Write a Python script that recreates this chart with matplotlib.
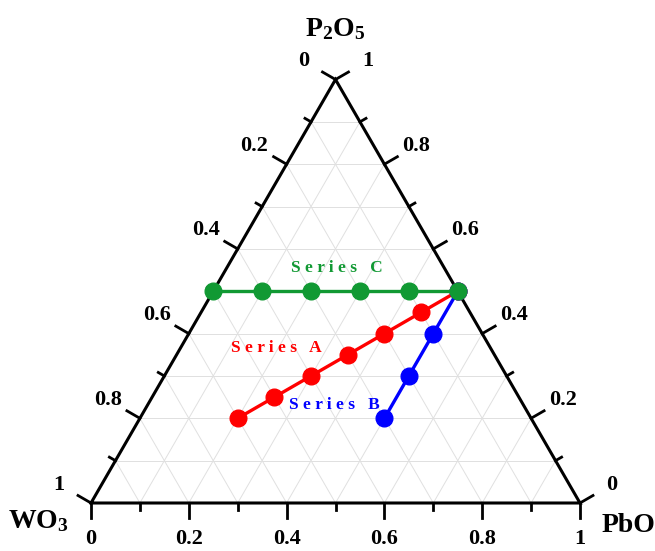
import numpy as np
import matplotlib
matplotlib.use("Agg")
import matplotlib.pyplot as plt

plt.rcParams['font.family'] = ['Liberation Serif', 'DejaVu Serif']
plt.rcParams['font.weight'] = 'bold'
plt.rcParams['mathtext.fontset'] = 'custom'
plt.rcParams['mathtext.rm'] = 'Liberation Serif:bold'
plt.rcParams['mathtext.it'] = 'Liberation Serif:bold'
plt.rcParams['mathtext.bf'] = 'Liberation Serif:bold'

# compositions (mole fractions): PbO, P2O5 (WO3 = 1 - PbO - P2O5)
pbo_a = [0.20, 0.25, 0.30, 0.35, 0.40, 0.45, 0.50]
p2o5_a = [0.20, 0.25, 0.30, 0.35, 0.40, 0.45, 0.50]
pbo_b = [0.50, 0.50, 0.50, 0.50]
p2o5_b = [0.20, 0.30, 0.40, 0.50]
pbo_c = [0.0, 0.1, 0.2, 0.3, 0.4, 0.5]
p2o5_c = [0.5, 0.5, 0.5, 0.5, 0.5, 0.5]

tick_vals = [0.0, 0.2, 0.4, 0.6, 0.8, 1.0]
tick_text = ['0', '0.2', '0.4', '0.6', '0.8', '1']

S = np.sqrt(3) / 2


def cart(pbo, p2o5):
    pbo = np.asarray(pbo, float)
    p2o5 = np.asarray(p2o5, float)
    return pbo + p2o5 / 2, p2o5 * S


fig = plt.figure(figsize=(6.55, 5.51), dpi=100)
ax = fig.add_axes([0, 0, 1, 1])
ax.set_xlim(-91 / 489, (655 - 91) / 489)
ax.set_ylim(-(551 - 503) / 489, 503 / 489)
ax.axis('off')

# grid
gc = '#e0e0e0'
for t in np.arange(0.1, 0.95, 0.1):
    x, y = cart([t, t], [0, 1 - t])
    ax.plot(x, y, color=gc, lw=0.7, zorder=1)
    x, y = cart([0, 1 - t], [t, t])
    ax.plot(x, y, color=gc, lw=0.7, zorder=1)
    x, y = cart([1 - t, 0], [0, 1 - t])
    ax.plot(x, y, color=gc, lw=0.7, zorder=1)

# frame
x, y = cart([0, 1, 0, 0], [0, 0, 1, 0])
ax.plot(x, y, color='black', lw=2.2, zorder=3, solid_joinstyle='miter')

# ticks on the three edges
d_bot = np.array([0, -1])
d_right = np.array([np.cos(np.pi / 6), np.sin(np.pi / 6)])
d_left = np.array([-np.cos(np.pi / 6), np.sin(np.pi / 6)])
major, minor = 15 / 489, 7 / 489
for i in range(11):
    t = i / 10
    ln = major if i % 2 == 0 else minor
    # PbO on the bottom edge
    p = np.array(cart(t, 0))
    ax.plot([p[0], p[0] + d_bot[0] * ln], [p[1], p[1] + d_bot[1] * ln], color='black', lw=2.0, zorder=3)
    # P2O5 on the right edge
    p = np.array(cart(1 - t, t))
    ax.plot([p[0], p[0] + d_right[0] * ln], [p[1], p[1] + d_right[1] * ln], color='black', lw=2.0, zorder=3)
    # WO3 on the left edge
    p = np.array(cart(0, 1 - t))
    ax.plot([p[0], p[0] + d_left[0] * ln], [p[1], p[1] + d_left[1] * ln], color='black', lw=2.0, zorder=3)

off = 37 / 489
for t, s in zip(tick_vals, tick_text):
    p = np.array(cart(t, 0))
    ax.text(p[0], p[1] - 36 / 489, s, fontsize=16, ha='center', va='center')
    p = np.array(cart(1 - t, t)) + d_right * off
    ax.text(p[0], p[1], s, fontsize=16, ha='center', va='center')
    p = np.array(cart(0, 1 - t)) + d_left * off
    ax.text(p[0], p[1], s, fontsize=16, ha='center', va='center')

# vertex titles
ax.text(0.5, S + 50 / 489, r'$\mathrm{P_2O_5}$', fontsize=20, ha='center', va='center')
ax.text(-53 / 489, -18 / 489, r'$\mathrm{WO_3}$', fontsize=20, ha='center', va='center')
ax.text(1 + 48 / 489, -23 / 489, 'PbO', fontsize=20, ha='center', va='center')

red, blue, green = '#ff0000', '#0000ff', '#119933'
for pb, pp, c in [(pbo_a, p2o5_a, red), (pbo_b, p2o5_b, blue), (pbo_c, p2o5_c, green)]:
    x, y = cart(pb, pp)
    ax.plot(x, y, color=c, lw=2.4, marker='o', markersize=12, zorder=4)

# series labels
ax.text(0.503, 0.480, 'S e r i e s   C', color=green, fontsize=12.5, ha='center', va='center')
ax.text(0.378, 0.317, 'S e r i e s   A', color=red, fontsize=12.5, ha='center', va='center')
ax.text(0.497, 0.200, 'S e r i e s   B', color=blue, fontsize=12.5, ha='center', va='center')

fig.savefig('out.png', dpi=100)
